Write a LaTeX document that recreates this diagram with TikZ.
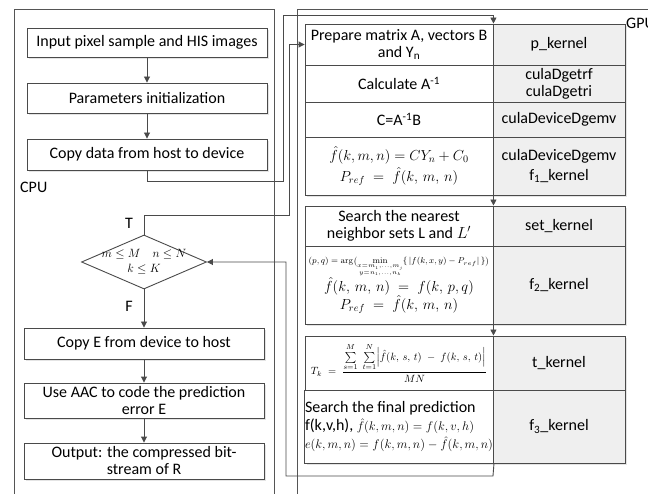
\RequirePackage{fix-cm}
\documentclass[tikz,border=0pt]{standalone}
\usepackage{amsmath}
\usepackage[no-math]{fontspec}
\setmainfont{Carlito}
\usetikzlibrary{shapes.geometric,arrows.meta,shadows}
\definecolor{linec}{HTML}{4A4A4A}
\definecolor{framec}{HTML}{555555}
\definecolor{cellg}{HTML}{EFEFEF}
\definecolor{shadc}{HTML}{E4E4E4}
\begin{document}
\begin{tikzpicture}[x=1pt,y=-1pt,
  every node/.style={font=\fontsize{16}{18}\selectfont},
  shad/.style={drop shadow={shadow xshift=2pt,shadow yshift=-2pt,fill=shadc,opacity=1}},
  lbox/.style={draw=linec,line width=0.9pt,fill=white,minimum width=240pt,inner sep=0.5pt,align=center,shad},
  lcell/.style={draw=linec,line width=0.9pt,fill=white,minimum width=188pt,inner sep=0.5pt,align=center,shad},
  rcell/.style={draw=linec,line width=0.9pt,fill=cellg,minimum width=132pt,inner sep=0.5pt,align=center,shad},
  lbl/.style={inner sep=0pt},
  frame/.style={draw=framec,line width=0.9pt},
  arr/.style={draw=linec,line width=0.9pt,-{Triangle[length=6pt,width=6pt]}}
]
\useasboundingbox (0,0) rectangle (648,494);
% frames
\draw[frame] (14,500) -- (14,9) -- (274,9) -- (274,500);
\draw[frame] (297,500) -- (297,9) -- (660,9);
\node[lbl,anchor=west] (cpu) at (20,187) {CPU};
\node[lbl,anchor=west] (gpu) at (626,23) {GPU};
% CPU flow
\node[lbox,minimum height=29pt] (b1) at (147,42.5) {Input pixel sample and HIS images};
\node[lbox,minimum height=30pt] (b2) at (147,98) {Parameters initialization};
\node[lbox,minimum height=31pt] (b3) at (147,154.5) {Copy data from host to device};
\node[diamond,draw=linec,line width=0.9pt,fill=white,minimum width=125pt,minimum height=54pt,inner sep=0pt] (dia) at (144,262) {};
\node[lbl,align=center,font=\fontsize{12}{15}\selectfont] (dtext) at (144,262) {$m \le M \quad n \le N$\\$k \le K$};
\node[lbox,minimum height=31pt] (b4) at (144,343.5) {Copy E from device to host};
\node[lbox,minimum height=35pt,font=\fontsize{16}{17}\selectfont] (b5) at (144,400.5) {Use AAC to code the prediction\\error E};
\node[lbox,minimum height=36pt,font=\fontsize{16}{17}\selectfont] (b6) at (144,461) {Output: the compressed bit-\\stream of R};
\node[lbl] (tl) at (129,223) {T};
\node[lbl] (fl) at (129,306) {F};
% GPU table
\node[lcell,minimum height=41pt,font=\fontsize{16}{17}\selectfont] (r1l) at (399,44.5) {Prepare matrix A, vectors B\\and Y\textsubscript{n}};
\node[rcell,minimum height=41pt] (r1r) at (559,44.5) {p\_kernel};
\node[lcell,minimum height=37pt] (r2l) at (399,83.5) {Calculate A\textsuperscript{-1}};
\node[rcell,minimum height=37pt,font=\fontsize{16}{17}\selectfont] (r2r) at (559,83.5) {culaDgetrf\\culaDgetri};
\node[lcell,minimum height=35pt] (r3l) at (399,119.5) {C=A\textsuperscript{-1}B};
\node[rcell,minimum height=35pt] (r3r) at (559,119.5) {culaDeviceDgemv};
\node[lcell,minimum height=58pt,font=\fontsize{14.5}{21}\selectfont] (r4l) at (399,166) {$\hat{f}(k,m,n)=CY_n+C_0$\\$P_{ref}\;=\;\hat{f}(k,\,m,\,n)$};
\node[rcell,minimum height=58pt,font=\fontsize{16}{20}\selectfont] (r4r) at (559,166) {culaDeviceDgemv\\f\textsubscript{1}\_kernel};
\node[lcell,minimum height=40pt,font=\fontsize{16}{17}\selectfont] (r5l) at (399,226) {Search the nearest\\neighbor sets L and $L'$};
\node[rcell,minimum height=40pt] (r5r) at (559,226) {set\_kernel};
\node[lcell,minimum height=78pt,font=\fontsize{14.5}{18}\selectfont] (r6l) at (399,285) {{\fontsize{8.5}{10}\selectfont$(p,q)=\arg\bigl(\min\limits_{\substack{x=m_1,\ldots,m_j\\ y=n_1,\ldots,n_k}}\{\,|f(k,x,y)-P_{ref}|\,\}\bigr)$}\\$\hat{f}(k,\,m,\,n)\;=\;f(k,\,p,q)$\\$P_{ref}\;=\;\hat{f}(k,\,m,\,n)$};
\node[rcell,minimum height=78pt] (r6r) at (559,285) {f\textsubscript{2}\_kernel};
\node[lcell,minimum height=54pt,font=\fontsize{10.5}{12}\selectfont] (r7l) at (399,363) {$T_k\;=\;\dfrac{\sum\limits_{s=1}^{M}\;\sum\limits_{t=1}^{N}\Bigl|\hat{f}(k,\,s,\,t)\;-\;f(k,\,s,\,t)\Bigr|}{MN}$};
\node[rcell,minimum height=54pt] (r7r) at (559,363) {t\_kernel};
\node[lcell,minimum height=73pt,align=left,font=\fontsize{16}{17}\selectfont] (r8l) at (399,426.5) {Search the final prediction\\[1pt]f(k,v,h), {\fontsize{12.5}{17}\selectfont$\hat{f}(k,m,n)=f(k,v,h)$}\\[1pt]{\fontsize{12.5}{17}\selectfont$e(k,m,n)=f(k,m,n)-\hat{f}(k,m,n)$}};
\node[rcell,minimum height=73pt] (r8r) at (559,426.5) {f\textsubscript{3}\_kernel};
% connectors
\coordinate (d1) at (283,181);
\coordinate (d2) at (283,15);
\coordinate (t1) at (289,215);
\coordinate (e1) at (493,476);
\coordinate (e2) at (286,476);
\draw[arr] (b1) -- (b2);
\draw[arr] (b2) -- (b3);
\draw[arr] (b3.south) |- (d1) -- (d2) -| (r1l.north east);
\draw[arr] (dia.north) |- (t1) |- (r1l.west);
\draw[arr] (dia) -- (b4);
\draw[arr] (b4) -- (b5);
\draw[arr] (b5) -- (b6);
\draw[arr] (r4l.south east) -- (r5l.north east);
\draw[arr] (r6l.south east) -- (r7l.north east);
\draw[arr] (r8l.south east) -- (e1) -- (e2) |- (dia.east);
\end{tikzpicture}
\end{document}
